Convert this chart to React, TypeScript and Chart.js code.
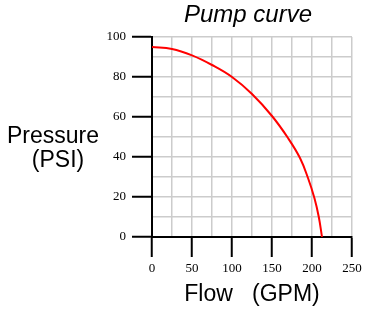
import React, { useEffect, useRef } from "react";
import { Chart, registerables } from "chart.js";

Chart.register(...registerables);

const flowGPM = [0, 25, 50, 75, 100, 125, 150, 170, 185, 195, 203, 208.5, 212.5];
const pressurePSI = [95, 94, 90.8, 86, 80, 71.5, 60.5, 49.5, 39.5, 29.5, 19.5, 10, 0];
const xTickLabels = [0, 50, 100, 150, 200, 250];
const yTickLabels = [0, 20, 40, 60, 80, 100];

const chartTitle = "Pump curve";
const yTitleLines = ["Pressure", "(PSI)"];
const xTitle = "Flow   (GPM)";

const SANS = '"Liberation Sans", Arial, Helvetica, sans-serif';
const SERIF = '"Liberation Serif", "Times New Roman", serif';

export default function App() {
  const ref = useRef<HTMLCanvasElement | null>(null);

  useEffect(() => {
    if (!ref.current) return;
    document.body.style.margin = "0";

    const textPlugin = {
      id: "texts",
      afterDraw(chart: any) {
        const { ctx, chartArea } = chart;
        ctx.save();
        ctx.fillStyle = "#000";
        ctx.textAlign = "center";
        ctx.textBaseline = "alphabetic";
        const cx = (chartArea.left + chartArea.right) / 2;
        ctx.font = `italic 24px ${SANS}`;
        ctx.fillText(chartTitle, cx - 4, 22);
        ctx.font = `23px ${SANS}`;
        ctx.fillText(yTitleLines[0], 53, 143);
        ctx.fillText(yTitleLines[1], 58, 167);
        ctx.fillText(xTitle, cx, 301);
        ctx.restore();
      },
    };

    const chart = new Chart(ref.current, {
      type: "scatter",
      data: {
        datasets: [
          {
            data: flowGPM.map((x, i) => ({ x, y: pressurePSI[i] })),
            showLine: true,
            borderColor: "#ff0000",
            borderWidth: 2,
            pointRadius: 0,
            tension: 0.4,
            fill: false,
          },
        ],
      },
      options: {
        responsive: false,
        animation: false,
        devicePixelRatio: 1,
        layout: { padding: { top: 37, right: 18, left: 0, bottom: 0 } },
        plugins: {
          legend: { display: false },
          title: { display: false },
          tooltip: { enabled: false },
        },
        scales: {
          x: {
            type: "linear",
            min: 0,
            max: 250,
            afterFit: (s: any) => {
              s.height = 75;
            },
            ticks: {
              stepSize: 25,
              autoSkip: false,
              maxRotation: 0,
              padding: 4,
              color: "#000",
              font: { family: SERIF, size: 13 },
              callback: (v: any) =>
                xTickLabels.includes(Number(v)) ? String(v) : "",
            },
            grid: {
              color: "#cccccc",
              lineWidth: 1.5,
              tickLength: 20,
              tickWidth: 2,
              tickColor: (c: any) =>
                c.tick && xTickLabels.includes(c.tick.value)
                  ? "#000"
                  : "rgba(0,0,0,0)",
            },
            border: { color: "#000", width: 2 },
          },
          y: {
            type: "linear",
            min: 0,
            max: 100,
            afterFit: (s: any) => {
              s.width = 152;
            },
            ticks: {
              stepSize: 10,
              autoSkip: false,
              padding: 6,
              color: "#000",
              font: { family: SERIF, size: 13 },
              callback: (v: any) =>
                yTickLabels.includes(Number(v)) ? String(v) : "",
            },
            grid: {
              color: "#cccccc",
              lineWidth: 1.5,
              tickLength: 20,
              tickWidth: 2,
              tickColor: (c: any) =>
                c.tick && yTickLabels.includes(c.tick.value)
                  ? "#000"
                  : "rgba(0,0,0,0)",
            },
            border: { color: "#000", width: 2 },
          },
        },
      },
      plugins: [textPlugin],
    } as any);

    return () => chart.destroy();
  }, []);

  return (
    <div style={{ position: "absolute", left: 0, top: 0, width: 370, height: 312, background: "#fff" }}>
      <canvas ref={ref} width={370} height={312} />
    </div>
  );
}
